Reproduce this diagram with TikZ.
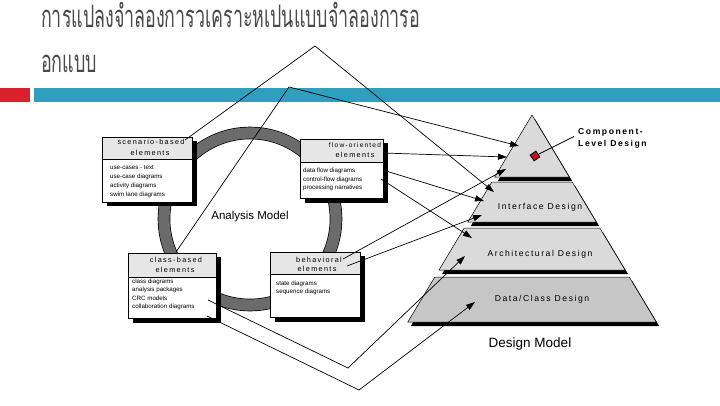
\documentclass[tikz,border=0pt]{standalone}
\usepackage{fontspec}
\setmainfont{Liberation Sans}
\newfontfamily\thaifont[Script=Thai]{Loma}
\newfontfamily\spfont[LetterSpace=18]{Liberation Sans}
\usetikzlibrary{arrows.meta,calc}
\definecolor{teal1}{HTML}{2E9FBD}
\definecolor{red1}{HTML}{D9212B}
\definecolor{ringgray}{HTML}{6B6B6B}
\definecolor{hdrgray}{HTML}{E6E6E6}
\definecolor{layergray}{HTML}{DADADA}
\definecolor{layerdark}{HTML}{C6C6C6}
\definecolor{titlegray}{HTML}{4A4A4A}
\definecolor{dotred}{HTML}{C0141C}
\tikzset{
  titletext/.style={anchor=base west, inner sep=0, text=titlegray, font=\thaifont\fontsize{31}{31}\selectfont},
  boxbody/.style={draw=black, line width=0.6pt, fill=white, anchor=north west, inner sep=0},
  hdrtext/.style={font=\spfont\fontsize{7.3}{9}\selectfont, inner sep=0},
  bodytext/.style={font=\fontsize{6.2}{7}\selectfont, inner sep=0, anchor=west},
  layer/.style={draw=black, line width=0.5pt},
  laytext/.style={font=\spfont\fontsize{8.6}{9}\selectfont, inner sep=0},
  conn/.style={line width=0.7pt, -{Triangle[length=9pt,width=6pt]}},
  plain/.style={line width=0.7pt}
}
\begin{document}
\begin{tikzpicture}[x=1pt,y=-1pt]
\useasboundingbox (0,0) rectangle (720,405);
\fill[white] (0,0) rectangle (720,405);

% title
\node[titletext] (t1) at (41,27) {\resizebox{379pt}{\height}{การแปลงจำลองการวเคราะหเปนแบบจำลองการอ}};
\node[titletext] (t2) at (41,72) {\resizebox{56pt}{\height}{อกแบบ}};

% bars
\fill[red1] (0,88) rectangle (30,102);
\fill[teal1] (34,88) rectangle (720,102);

% analysis ring
\draw[black, line width=12.6pt] (250,219) circle[radius=86pt];
\draw[ringgray, line width=11.2pt] (250,219) circle[radius=86pt];
\node[font=\fontsize{11.5}{13}\selectfont, inner sep=0] (am) at (250,217) {Analysis Model};

% scenario box
\fill[black] (107,141) rectangle (197,206);
\node[boxbody, minimum width=90pt, minimum height=65pt] (S) at (102,137) {};
\fill[hdrgray] (102,137) rectangle (192,159);
\draw[line width=0.6pt] (102,159) -- (192,159);
\draw[line width=0.6pt] (S.north west) rectangle (S.south east);
\node[hdrtext] (s1) at (151,142) {scenario-based};
\node[hdrtext] (s2) at (150,152.5) {elements};
\node[bodytext] (s3) at (110,168) {use-cases - text};
\node[bodytext] (s4) at (110,177) {use-case diagrams};
\node[bodytext] (s5) at (110,186) {activity diagrams};
\node[bodytext] (s6) at (110,194.5) {swim lane diagrams};

% flow box
\fill[black] (305,143) rectangle (388,203);
\node[boxbody, minimum width=83pt, minimum height=59pt] (F) at (300,139) {};
\fill[hdrgray] (300,139) rectangle (383,162);
\draw[line width=0.6pt] (300,162) -- (383,162);
\draw[line width=0.6pt] (F.north west) rectangle (F.south east);
\node[hdrtext, font=\spfont\fontsize{6.6}{8}\selectfont] (f1) at (355,145) {flow-oriented};
\node[hdrtext] (f2) at (355,155) {elements};
\node[bodytext] (f3) at (303,171) {data flow diagrams};
\node[bodytext] (f4) at (303,179.5) {control-flow diagrams};
\node[bodytext] (f5) at (303,188) {processing narratives};

% class box
\fill[black] (133,257) rectangle (221,323);
\node[boxbody, minimum width=88pt, minimum height=65pt] (C) at (128,253) {};
\fill[hdrgray] (128,253) rectangle (216,277);
\draw[line width=0.6pt] (128,277) -- (216,277);
\draw[line width=0.6pt] (C.north west) rectangle (C.south east);
\node[hdrtext] (c1) at (176,260) {class-based};
\node[hdrtext] (c2) at (175,270) {elements};
\node[bodytext] (c3) at (132,282) {class diagrams};
\node[bodytext] (c4) at (132,290) {analysis packages};
\node[bodytext] (c5) at (132,298) {CRC models};
\node[bodytext] (c6) at (132,306.5) {collaboration diagrams};

% behavioral box
\fill[black] (275,256) rectangle (365,322);
\node[boxbody, minimum width=90pt, minimum height=65pt] (B) at (270,252) {};
\fill[hdrgray] (270,252) rectangle (360,274);
\draw[line width=0.6pt] (270,274) -- (360,274);
\draw[line width=0.6pt] (B.north west) rectangle (B.south east);
\node[hdrtext] (b1) at (319,260) {behavioral};
\node[hdrtext] (b2) at (317,269) {elements};
\node[bodytext] (b3) at (276,284) {state diagrams};
\node[bodytext] (b4) at (276,292) {sequence diagrams};

% pyramid shadows
\fill[black] ($(532,115)+(3,4)$) -- ($(494.8,177)+(3,4)$) -- ($(569.2,177)+(3,4)$) -- cycle;
\fill[black] ($(491.8,182)+(3,4)$) -- ($(572.2,182)+(3,4)$) -- ($(596.2,222)+(3,4)$) -- ($(467.8,222)+(3,4)$) -- cycle;
\fill[black] ($(464.2,228)+(3,4)$) -- ($(599.8,228)+(3,4)$) -- ($(625,270)+(3,4)$) -- ($(439,270)+(3,4)$) -- cycle;
\fill[black] ($(434.8,277)+(3,4)$) -- ($(629.2,277)+(3,4)$) -- ($(656.2,322)+(3,4)$) -- ($(407.8,322)+(3,4)$) -- cycle;
% pyramid layers
\filldraw[layer, fill=layergray] (532,115) -- (494.8,177) -- (569.2,177) -- cycle;
\filldraw[layer, fill=layergray] (491.8,182) -- (572.2,182) -- (596.2,222) -- (467.8,222) -- cycle;
\filldraw[layer, fill=layergray] (464.2,228) -- (599.8,228) -- (625,270) -- (439,270) -- cycle;
\filldraw[layer, fill=layerdark] (434.8,277) -- (629.2,277) -- (656.2,322) -- (407.8,322) -- cycle;
\node[laytext] (L2) at (540,207) {Interface Design};
\node[laytext] (L3) at (540,254) {Architectural Design};
\node[laytext] (L4) at (542,299) {Data/Class Design};
\node[laytext, font=\spfont\bfseries\fontsize{8.6}{9}\selectfont, anchor=west] (L1a) at (578,132) {Component-};
\node[laytext, font=\spfont\bfseries\fontsize{8.6}{9}\selectfont, anchor=west] (L1b) at (578,144) {Level Design};
\node[draw=black, line width=0.8pt, fill=dotred, minimum size=7pt, inner sep=0, rotate=35] (dot) at (535,156) {};
\coordinate (lblend) at (574,136.5);
\draw[plain] (dot) -- (lblend);

\node[font=\fontsize{13.5}{15}\selectfont, inner sep=0] (dm) at (530,344) {Design Model};

% connector coordinates
\coordinate (sA) at (185,140);
\coordinate (apex1) at (315,46);
\coordinate (eA) at (494,192);
\coordinate (cA) at (176,252);
\coordinate (apex2) at (289,87);
\coordinate (eB) at (519,146);
\coordinate (fA) at (383,153);
\coordinate (eC) at (507,157);
\coordinate (fB) at (386,171);
\coordinate (eD) at (484,201);
\coordinate (fC) at (381,179);
\coordinate (eE) at (472,238);
\coordinate (bA) at (343,259);
\coordinate (eF) at (506,169);
\coordinate (bB) at (347,266);
\coordinate (eG) at (482,215);
\coordinate (cB) at (208,300);
\coordinate (v1) at (348,368);
\coordinate (eH) at (465,256);
\coordinate (cC) at (207,316);
\coordinate (v2) at (359,390);
\coordinate (eI) at (475,302);

\draw[conn] (sA) -- (apex1) -- (eA);
\draw[conn] (cA) -- (apex2) -- (eB);
\draw[conn] (fA) -- (eC);
\draw[conn] (fB) -- (eD);
\draw[conn] (fC) -- (eE);
\draw[conn] (bA) -- (eF);
\draw[conn] (bB) -- (eG);
\draw[conn] (cB) -- (v1) -- (eH);
\draw[conn] (cC) -- (v2) -- (eI);
\end{tikzpicture}
\end{document}
